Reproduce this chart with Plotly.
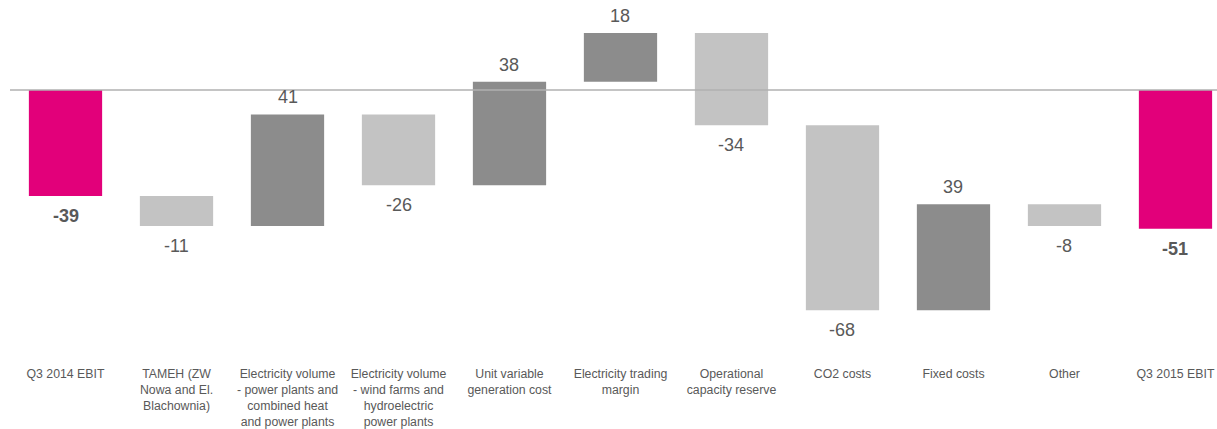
import plotly.graph_objects as go

categories = [
    "Q3 2014 EBIT",
    "TAMEH (ZW<br>Nowa and El.<br>Blachownia)",
    "Electricity volume<br>- power plants and<br>combined heat<br>and power plants",
    "Electricity volume<br>- wind farms and<br>hydroelectric<br>power plants",
    "Unit variable<br>generation cost",
    "Electricity trading<br>margin",
    "Operational<br>capacity reserve",
    "CO2 costs",
    "Fixed costs",
    "Other",
    "Q3 2015 EBIT",
]
values = [-39, -11, 41, -26, 38, 18, -34, -68, 39, -8, -51]
measures = ["absolute"] + ["relative"] * 9 + ["absolute"]

PINK = "#E2007A"
DARK = "#8C8C8C"
LIGHT = "#C3C3C3"
TXT = "#595959"

fig = go.Figure(go.Waterfall(
    x=categories,
    y=values,
    measure=measures,
    increasing=dict(marker=dict(color=DARK)),
    decreasing=dict(marker=dict(color=LIGHT)),
    totals=dict(marker=dict(color=PINK)),
    connector=dict(visible=False),
    hoverinfo="skip",
))

# value labels: above the bar for increases, below for decreases / negative totals
running = 0
for cat, v, m in zip(categories, values, measures):
    end = v if m == "absolute" else running + v
    running = end
    txt = f"<b>{v}</b>" if m == "absolute" else str(v)
    up = v > 0
    fig.add_annotation(
        x=cat, y=end, text=txt, showarrow=False,
        yanchor="bottom" if up else "top",
        yshift=5 if up else -8,
        font=dict(size=18, color=TXT),
    )

# baseline drawn over the bars
fig.add_shape(type="line", xref="paper", x0=0, x1=1, yref="y", y0=0, y1=0,
              line=dict(color="#B0B0B0", width=1.5), layer="above")

fig.update_layout(
    width=1217, height=429,
    margin=dict(l=10, r=0, t=0, b=64),
    paper_bgcolor="white", plot_bgcolor="white",
    font=dict(family="Arial, Liberation Sans, sans-serif", color=TXT),
    waterfallgap=0.34,
    showlegend=False,
)
fig.update_xaxes(
    range=[-0.5, 10.374], automargin=False,
    tickfont=dict(size=12.3, color=TXT),
    showgrid=False, showline=False, ticks="",
)
fig.update_yaxes(
    range=[-101.1, 33.09], automargin=False,
    showticklabels=False, showgrid=False, zeroline=False,
)

# drop the default body margin so the figure fills the window exactly
fig.write_html("out.html", config={"displayModeBar": False},
               post_script="document.body.style.margin='0';")
